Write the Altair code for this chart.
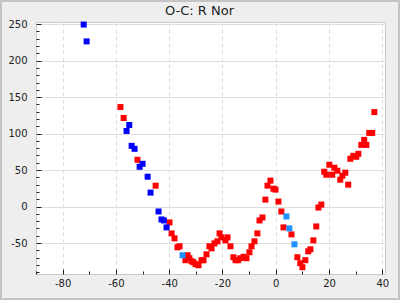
import altair as alt
import pandas as pd

# ---- data ----
blue_x = [-72.1, -71.0, -55.0, -56.0, -54.1, -53.0, -50.0, -51.1, -48.1, -47.0, -44.0, -42.9, -42.0, -41.0]
blue_y = [249.5, 226.4, 111.8, 103.6, 83.2, 79.1, 58.6, 54.5, 40.9, 19.1, -6.8, -17.7, -19.1, -28.6]

lightblue_x = [-35.0, 4.0, 5.1, 7.0]
lightblue_y = [-66.8, -13.6, -30.0, -51.8]

red_x = [-58.3, -57.1, -51.9, -45.1, -39.9, -39.1, -38.0, -36.9, -36.1, -33.9, -33.1, -32.4,
         -31.6, -30.9, -30.1, -29.0, -27.9, -27.1, -26.0, -24.9, -24.1, -23.0, -21.9, -21.1,
         -20.4, -18.9, -18.1, -17.0, -15.9, -15.1, -14.2, -13.3, -12.1, -11.0, -9.9, -9.1,
         -8.0, -6.9, -6.1, -5.0, -3.9, -3.1, -2.0, -0.9, -0.1, 1.0, 2.1, 2.9, 5.9, 8.1, 9.2,
         10.0, 11.1, 12.2, 13.0, 14.1, 15.2, 16.0, 17.1, 18.2, 19.0, 20.1, 21.2, 22.0, 23.1,
         24.2, 25.0, 26.1, 27.2, 28.0, 29.1, 30.2, 31.0, 32.1, 33.2, 34.0, 35.1, 36.2, 37.0]
red_y = [136.4, 121.4, 64.1, 28.6, -21.8, -36.8, -43.6, -55.9, -54.5, -73.6, -66.8, -70.9,
         -75.0, -76.4, -79.1, -80.5, -73.6, -73.6, -65.5, -54.5, -57.3, -50.5, -47.7, -36.8,
         -42.3, -46.4, -42.3, -54.5, -69.5, -73.6, -73.6, -70.9, -68.9, -70.9, -62.7, -54.5,
         -47.7, -36.8, -19.1, -15.0, 9.5, 28.6, 35.5, 24.5, 23.2, 6.8, -6.8, -28.6, -38.2, -69.5, -77.7,
         -83.2, -73.6, -61.4, -58.6, -46.4, -27.3, -1.4, 2.7, 47.7, 43.6, 57.3, 43.6, 53.2, 49.1,
         36.8, 42.3, 46.4, 30.0, 65.5, 69.5, 68.2, 72.3, 84.5, 91.4, 84.5, 100.9, 100.9, 129.5]

series_names = ["red", "blue", "lightblue"]
series_colors = ["#ff0000", "#0000ff", "#1e90ff"]

x_major = [-80, -60, -40, -20, 0, 20, 40]
x_minor = [-90, -70, -50, -30, -10, 10, 30]
y_major = [-50, 0, 50, 100, 150, 200, 250]
y_minor = [v for v in range(-90, 251, 10) if v % 50 != 0]

x_domain = [-90, 41]
y_domain = [-92.5, 253]

rows = []
for xs_, ys_, name in [(red_x, red_y, "red"), (blue_x, blue_y, "blue"), (lightblue_x, lightblue_y, "lightblue")]:
    for a, b in zip(xs_, ys_):
        rows.append({"x": a, "y": b, "s": name})
df = pd.DataFrame(rows)

xsc = alt.Scale(domain=x_domain, nice=False, zero=False)
ysc = alt.Scale(domain=y_domain, nice=False, zero=False)

FONT = "DejaVu Sans"
TXT = "#222222"

color = alt.Color("s:N", scale=alt.Scale(domain=series_names, range=series_colors), legend=None)

base = alt.Chart(df)

points = base.mark_square(size=36, opacity=1, strokeWidth=0).encode(
    x=alt.X("x:Q", scale=xsc, axis=alt.Axis(
        values=x_major, orient="bottom", title=None, ticks=False, tickSize=0, domain=False,
        labelPadding=4, grid=True, gridColor="#dddddd", gridDash=[4, 3],
        labelFontSize=10, labelFont=FONT, labelColor=TXT, labelExpr="'' + datum.value")),
    y=alt.Y("y:Q", scale=ysc, axis=alt.Axis(
        values=y_major, orient="left", title=None, ticks=False, tickSize=0, domain=False,
        labelPadding=9, grid=True, gridColor="#dddddd",
        labelFontSize=10, labelFont=FONT, labelColor=TXT, labelExpr="'' + datum.value")),
    color=color,
)

def tick_layer(xv, yv, size):
    return base.mark_point(opacity=0, size=1).encode(
        x=alt.X("x:Q", scale=xsc, axis=alt.Axis(
            values=xv, orient="bottom", title=None, labels=False, domain=False, grid=False,
            ticks=True, tickSize=size, offset=-size, tickColor=TXT, tickWidth=1)),
        y=alt.Y("y:Q", scale=ysc, axis=alt.Axis(
            values=yv, orient="left", title=None, labels=False, domain=False, grid=False,
            ticks=True, tickSize=size, offset=-size, tickColor=TXT, tickWidth=1)),
    )

major = tick_layer(x_major, y_major, 5)
minor = tick_layer(x_minor, y_minor, 3)

frame = alt.Chart(pd.DataFrame({"a": [0]})).mark_rect(
    fillOpacity=0, stroke="#c4c4c4", strokeWidth=2, clip=False
).encode(x=alt.value(-35), x2=alt.value(363), y=alt.value(-21), y2=alt.value(277))

chart = alt.layer(points, major, minor, frame).resolve_axis(
    x="independent", y="independent"
).properties(
    width=349, height=252,
    title=alt.TitleParams("O-C: R Nor", fontSize=13, font=FONT, fontWeight="normal",
                          color=TXT, anchor="middle", dx=-11, offset=-28,
                          baseline="alphabetic"),
    autosize=alt.AutoSizeParams(type="none"),
    padding={"left": 36, "top": 22, "right": 15, "bottom": 26},
    background="#eeeeee",
).configure_view(stroke="#c8c8c8", strokeWidth=1, fill="white")

chart.save("out.html", embed_options={"renderer": "svg", "actions": False})
